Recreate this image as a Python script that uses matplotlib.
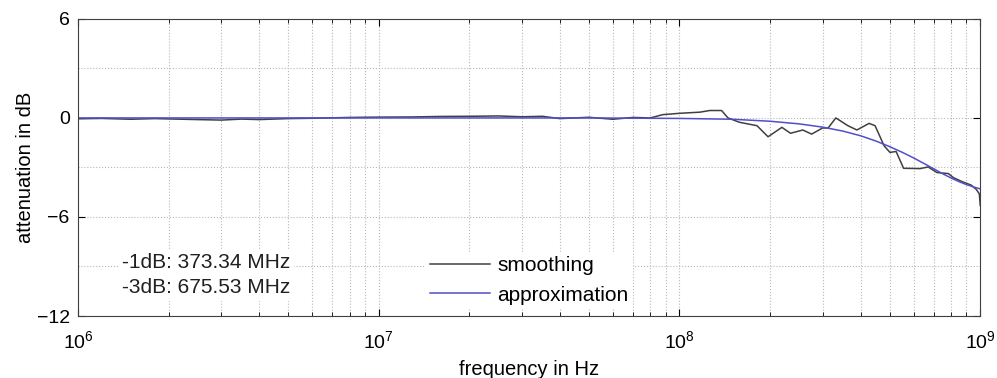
import numpy as np
import matplotlib.pyplot as plt
from matplotlib.ticker import MultipleLocator, LogLocator, NullFormatter

plt.rcParams['font.family'] = ['Liberation Sans', 'DejaVu Sans']
plt.rcParams['mathtext.default'] = 'regular'

# Messwerte (geglaettet), Frequenz in Hz und Daempfung in dB
freq_smooth = [1e6, 1.2e6, 1.5e6, 1.8e6, 2e6, 2.5e6, 3e6, 3.5e6, 4e6, 5e6, 6e6, 8e6,
               1e7, 1.3e7, 1.6e7, 2e7, 2.5e7, 3e7, 3.5e7, 4e7, 5e7, 6e7, 7e7, 8e7,
               8.8e7, 1e8, 1.17e8, 1.26e8, 1.38e8, 1.45e8, 1.58e8, 1.81e8, 1.97e8,
               2.19e8, 2.34e8, 2.57e8, 2.75e8, 2.99e8, 3.12e8, 3.31e8, 3.63e8, 3.89e8,
               4.27e8, 4.47e8, 4.79e8, 5.01e8, 5.25e8, 5.56e8, 6.31e8, 6.71e8, 7.18e8,
               7.83e8, 8.15e8, 8.71e8, 9.33e8, 9.7e8, 9.93e8, 1e9]
db_smooth = [-0.05, -0.03, -0.08, -0.04, -0.06, -0.1, -0.13, -0.07, -0.1, -0.04, -0.02, 0.03,
             0.05, 0.06, 0.09, 0.1, 0.12, 0.07, 0.1, -0.04, 0.04, -0.08, 0.03, 0.0,
             0.2, 0.28, 0.35, 0.45, 0.45, 0.0, -0.26, -0.47, -1.14,
             -0.57, -0.93, -0.73, -0.98, -0.61, -0.61, 0.0, -0.47, -0.73,
             -0.33, -0.47, -1.69, -2.09, -2.03, -3.05, -3.07, -2.97, -3.31,
             -3.37, -3.62, -3.86, -4.07, -4.33, -4.6, -5.3]

# Naeherung
freq_approx = [1e6, 1e7, 5e7, 1e8, 1.5e8, 2e8, 2.5e8, 3e8, 3.5e8, 4e8, 4.5e8, 5e8,
               5.5e8, 6e8, 6.5e8, 7e8, 7.5e8, 8e8, 8.5e8, 9e8, 9.5e8, 1e9]
db_approx = [0.0, 0.0, 0.0, -0.03, -0.08, -0.2, -0.36, -0.56, -0.8, -1.08, -1.4, -1.74,
             -2.08, -2.42, -2.76, -3.08, -3.38, -3.64, -3.86, -4.04, -4.18, -4.3]

fig = plt.figure(figsize=(9.97, 3.78), dpi=100)
ax = fig.add_axes([0.0782, 0.164, 0.905, 0.786])

ax.semilogx(freq_smooth, db_smooth, color='#404040', lw=1.1, label='smoothing')
ax.semilogx(freq_approx, db_approx, color='#5050c8', lw=1.1, label='approximation')

ax.set_xlim(1e6, 1e9)
ax.set_ylim(-12, 6)
ax.yaxis.set_major_locator(MultipleLocator(6))
ax.yaxis.set_minor_locator(MultipleLocator(3))
ax.xaxis.set_minor_locator(LogLocator(base=10, subs=np.arange(2, 10)))
ax.xaxis.set_minor_formatter(NullFormatter())

ax.grid(True, which='both', linestyle=':', color='#b8b8b8', lw=0.8)
ax.tick_params(which='both', direction='in', top=True, right=True, labelsize=14)
ax.tick_params(which='major', length=5)
ax.tick_params(axis='x', which='minor', length=3)
ax.tick_params(axis='y', which='minor', length=0)
ax.tick_params(axis='x', which='major', pad=10)
ax.tick_params(axis='y', which='major', pad=6)
for sp in ax.spines.values():
    sp.set_color('#404040')

ax.set_xlabel('frequency in Hz', fontsize=14.5, labelpad=6)
ax.set_ylabel('attenuation in dB', fontsize=14.5, labelpad=1)

ax.text(1.4e6, -8.2, '-1dB: 373.34 MHz\n-3dB: 675.53 MHz', fontsize=15,
        va='top', linespacing=1.4, color='#202020',
        bbox=dict(facecolor='white', edgecolor='none', pad=3))

ax.legend(loc='upper left', bbox_to_anchor=(0.385, 0.215), frameon=True,
          framealpha=1, edgecolor='none', fontsize=15, handlelength=2.9,
          borderpad=0.2, labelspacing=0.5, handletextpad=0.35,
          borderaxespad=0)

fig.savefig('out.png', dpi=100)
